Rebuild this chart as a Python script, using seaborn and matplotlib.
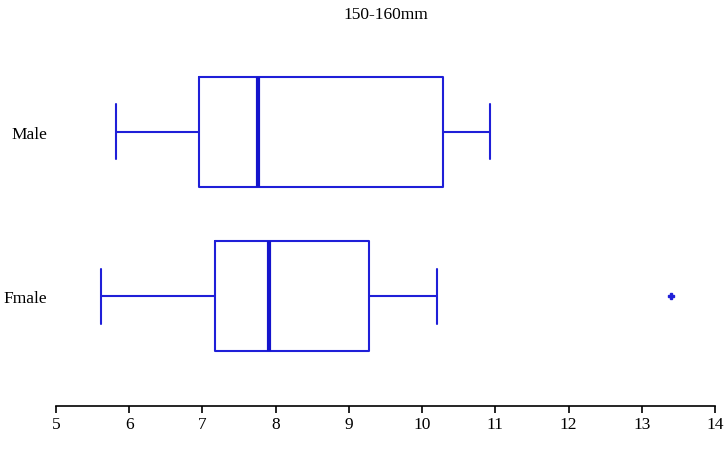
import matplotlib
matplotlib.use('Agg')
import matplotlib.pyplot as plt
import seaborn as sns
import pandas as pd

# Values (min whisker, Q1, median, Q3, max whisker, outliers).
# Repeated entries just pin the quartiles where the picture shows them.
male_values = [5.82, 6.95, 7.76, 10.29, 10.93]
fmale_values = [5.61, 7.17, 7.17, 7.91, 7.91, 9.28, 9.28, 10.20, 13.40]
groups = ['Male', 'Fmale']
x_ticks = [5, 6, 7, 8, 9, 10, 11, 12, 13, 14]
title = '150-160mm'

df = pd.DataFrame({
    'group': ['Male'] * len(male_values) + ['Fmale'] * len(fmale_values),
    'value': male_values + fmale_values,
})

BLUE = '#1f1fd8'

sns.set_style('white')
plt.rcParams['font.family'] = ['Liberation Serif', 'DejaVu Serif']
plt.rcParams['text.color'] = 'black'
plt.rcParams['xtick.color'] = 'black'
plt.rcParams['ytick.color'] = 'black'

fig = plt.figure(figsize=(7.28, 4.52), dpi=100)
ax = fig.add_axes([56 / 728, 1 - 407 / 452, (715 - 56) / 728, (407 - 23) / 452])

sns.boxplot(
    data=df, x='value', y='group', order=groups, orient='h',
    width=0.67, fill=False, color=BLUE, linewidth=1.5, whis=1.5,
    medianprops=dict(color='#1414cc', linewidth=3),
    flierprops=dict(marker='P', markersize=5, markerfacecolor=BLUE,
                    markeredgecolor=BLUE),
    ax=ax,
)

ax.set_xlim(5, 14)
ax.set_ylim(1.67, -0.67)
ax.set_xticks(x_ticks)
ax.set_xticklabels([str(t) for t in x_ticks], fontsize=12.5)
ax.tick_params(axis='x', direction='out', length=5, width=1.2, color='black', pad=2,
               bottom=True, labelcolor='black')
ax.tick_params(axis='y', length=0, labelsize=12.5, pad=6.5, labelcolor='black')
ax.set_xlabel('')
ax.set_ylabel('')

for side in ['top', 'right', 'left']:
    ax.spines[side].set_visible(False)
ax.spines['bottom'].set_color('black')
ax.spines['bottom'].set_linewidth(1.2)

ax.set_title(title, fontsize=12.5, pad=3, color='black')

fig.savefig('out.png', dpi=100)
